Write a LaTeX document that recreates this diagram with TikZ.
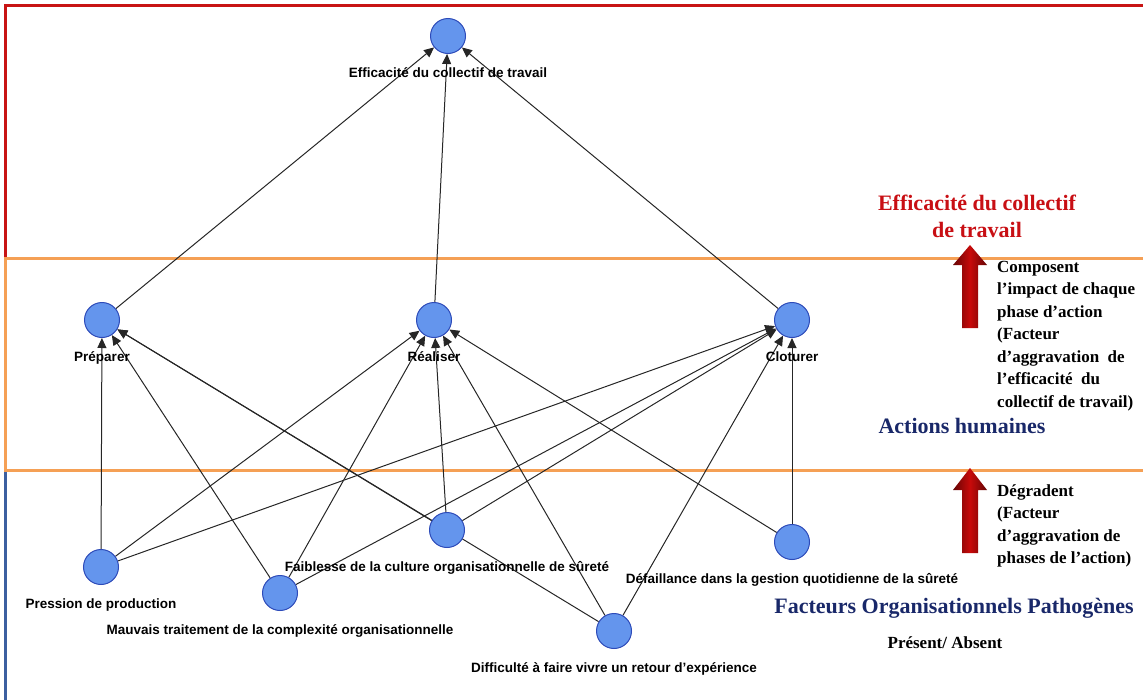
\documentclass[tikz,border=0pt]{standalone}
\usepackage{fontspec}
\setmainfont{Liberation Serif}
\setsansfont{Liberation Sans}
\usetikzlibrary{arrows.meta,positioning,backgrounds}

\definecolor{nodeblue}{RGB}{100,149,237}
\definecolor{nodeedge}{RGB}{45,75,185}
\definecolor{bandred}{RGB}{200,20,20}
\definecolor{bandorange}{RGB}{245,160,85}
\definecolor{bandblue}{RGB}{60,95,160}
\definecolor{titlered}{RGB}{200,15,20}
\definecolor{titlenavy}{RGB}{25,40,105}
\definecolor{arrowred}{RGB}{200,10,10}

\begin{document}
\begin{tikzpicture}[x=1pt, y=-1pt,
  var/.style={circle, draw=nodeedge, fill=nodeblue, line width=1pt, minimum size=35pt,
              inner sep=0pt},
  lbl/.style={font=\sffamily\bfseries\fontsize{13.5}{16}\selectfont, inner sep=0pt,
              text height=10pt, text depth=3pt, yshift=-13pt},
  link/.style={-{Triangle[length=10pt,width=9pt]}, line width=1pt, black!85},
  band/.style={line width=3pt},
  level/.style={font=\bfseries\fontsize{22}{27}\selectfont, align=center},
  note/.style={font=\bfseries\fontsize{17}{22.5}\selectfont, align=left, anchor=north west, inner sep=0pt},
  uparrow/.style={left color=arrowred!50!black, right color=arrowred!50!black, middle color=arrowred}
]
  \useasboundingbox (0,0) rectangle (1143,699);

  % Nodes
  \node[var, label={[lbl]below:Efficacité du collectif de travail}] (eff) at (448,36) {};
  \node[var, label={[lbl]below:Préparer}] (prep) at (102,320) {};
  \node[var, label={[lbl]below:Réaliser}] (real) at (434,320) {};
  \node[var, label={[lbl]below:Cloturer}] (clot) at (792,320) {};
  \node[var, label={[lbl]below:Pression de production}] (press) at (101,567) {};
  \node[var, label={[lbl]below:Mauvais traitement de la complexité organisationnelle}] (mauv) at (280,593) {};
  \node[var, label={[lbl]below:Faiblesse de la culture organisationnelle de sûreté}] (faib) at (447,530) {};
  \node[var, label={[lbl]below:Difficulté à faire vivre un retour d’expérience}] (diff) at (614,631) {};
  \node[var, label={[lbl]below:Défaillance dans la gestion quotidienne de la sûreté}] (defa) at (792,542) {};

  % Bands and arrows
  \begin{scope}[on background layer]
    \draw[band, bandred] (1150,5) -- (5,5) -- (5,258);
    \draw[band, bandblue] (5,470) -- (5,705);
    \draw[band, bandorange] (1150,258) -- (5,258) -- (5,470) -- (1150,470);
    \foreach \phase in {prep,real,clot}
      \draw[link] (\phase) -- (eff);
    \foreach \fop in {press,mauv,faib,diff}
      \foreach \phase in {prep,real,clot}
        \draw[link] (\fop) -- (\phase);
    \draw[link] (defa) -- (real);
    \draw[link] (defa) -- (clot);
  \end{scope}

  % Legend
  \node[level, text=titlered] (lv-eff) at (977,216) {Efficacité du collectif\\de travail};
  \node[level, text=titlenavy] (lv-act) at (962,426) {Actions humaines};
  \node[level, text=titlenavy] (lv-fop) at (954,608) {Facteurs Organisationnels Pathogènes};
  \node[font=\bfseries\fontsize{17}{20}\selectfont] (pres) at (945,643) {Présent/ Absent};
  \node[note] (compose) at (997,261) {Composent\\l’impact de chaque\\phase d’action\\(Facteur\\d’aggravation~~de\\l’efficacité~~du\\collectif de travail)};
  \node[note] (degrade) at (997,484) {Dégradent\\(Facteur\\d’aggravation de\\phases de l’action)};
  \path[uparrow] (962,328) -- (962,265) -- (953,265) -- (970,245) -- (987,265) -- (978,265) -- (978,328) -- cycle;
  \path[uparrow] (962,553) -- (962,490) -- (953,490) -- (970,468) -- (987,490) -- (978,490) -- (978,553) -- cycle;
\end{tikzpicture}
\end{document}
